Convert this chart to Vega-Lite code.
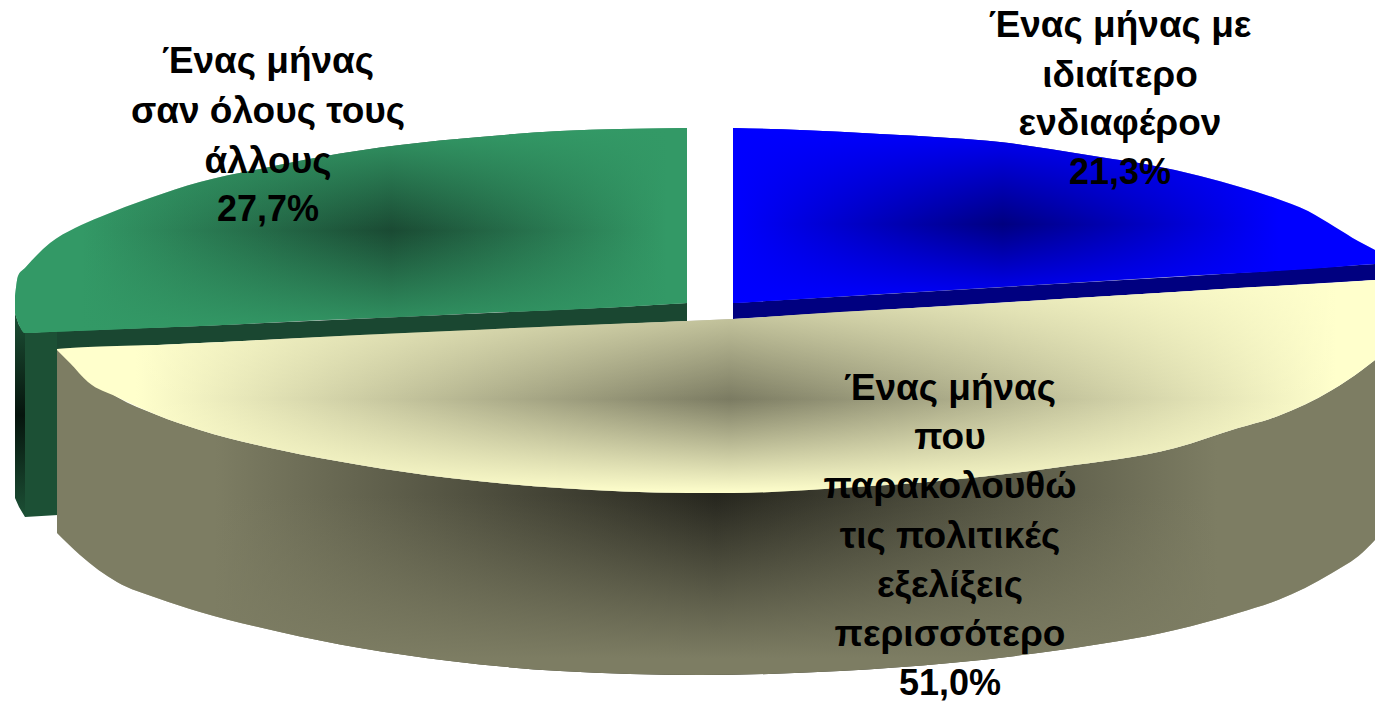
{
"$schema":"https://vega.github.io/schema/vega-lite/v6.json",
"width":1375,"height":704,"padding":0,"autosize":{"type":"none"},
"background":"white","view":{"stroke":null},
"datasets":{
"shape":[
{"part":"greenLeft","x":15,"top":313,"bottom":498},{"part":"greenLeft","x":19,"top":325,"bottom":507},{"part":"greenLeft","x":25,"top":333,"bottom":517},
{"part":"greenWall","x":25,"top":333,"bottom":517},{"part":"greenWall","x":58,"top":331,"bottom":515},
{"part":"greenStrip","x":57,"top":331,"bottom":350},{"part":"greenStrip","x":200,"top":326,"bottom":343},{"part":"greenStrip","x":620,"top":307,"bottom":324},{"part":"greenStrip","x":687,"top":303,"bottom":321},
{"part":"blueStrip","x":733,"top":303,"bottom":319},{"part":"blueStrip","x":1175,"top":277,"bottom":292},{"part":"blueStrip","x":1375,"top":264,"bottom":280},
{"part":"greenTop","x":15,"top":296,"bottom":313},{"part":"greenTop","x":18,"top":276,"bottom":322},{"part":"greenTop","x":25,"top":268,"bottom":333},{"part":"greenTop","x":50,"top":243,"bottom":332},{"part":"greenTop","x":75,"top":228,"bottom":331},{"part":"greenTop","x":100,"top":217,"bottom":330},{"part":"greenTop","x":150,"top":198,"bottom":328},{"part":"greenTop","x":200,"top":182,"bottom":326},{"part":"greenTop","x":260,"top":169,"bottom":323},{"part":"greenTop","x":320,"top":157,"bottom":320},{"part":"greenTop","x":400,"top":145,"bottom":317},{"part":"greenTop","x":480,"top":137,"bottom":313},{"part":"greenTop","x":560,"top":131,"bottom":310},{"part":"greenTop","x":620,"top":129,"bottom":307},{"part":"greenTop","x":687,"top":128,"bottom":303},
{"part":"blueTop","x":733,"top":128,"bottom":303},{"part":"blueTop","x":800,"top":130,"bottom":299},{"part":"blueTop","x":880,"top":134,"bottom":294},{"part":"blueTop","x":950,"top":138,"bottom":290},{"part":"blueTop","x":1000,"top":142,"bottom":287},{"part":"blueTop","x":1050,"top":149,"bottom":284},{"part":"blueTop","x":1100,"top":157,"bottom":281},{"part":"blueTop","x":1150,"top":165,"bottom":278},{"part":"blueTop","x":1200,"top":176,"bottom":275},{"part":"blueTop","x":1240,"top":187,"bottom":273},{"part":"blueTop","x":1275,"top":198,"bottom":271},{"part":"blueTop","x":1308,"top":211,"bottom":269},{"part":"blueTop","x":1335,"top":227,"bottom":267},{"part":"blueTop","x":1358,"top":241,"bottom":265},{"part":"blueTop","x":1375,"top":250,"bottom":264},
{"part":"yellowSide","x":57,"top":349,"bottom":533},{"part":"yellowSide","x":80,"top":370,"bottom":555},{"part":"yellowSide","x":117,"top":397,"bottom":582},{"part":"yellowSide","x":157,"top":415,"bottom":598},{"part":"yellowSide","x":200,"top":430,"bottom":612},{"part":"yellowSide","x":280,"top":450,"bottom":632},{"part":"yellowSide","x":360,"top":465,"bottom":648},{"part":"yellowSide","x":450,"top":478,"bottom":661},{"part":"yellowSide","x":560,"top":488,"bottom":671},{"part":"yellowSide","x":700,"top":493,"bottom":675},{"part":"yellowSide","x":840,"top":488,"bottom":671},{"part":"yellowSide","x":950,"top":480,"bottom":663},{"part":"yellowSide","x":1060,"top":467,"bottom":650},{"part":"yellowSide","x":1175,"top":448,"bottom":630},{"part":"yellowSide","x":1238,"top":428,"bottom":613},{"part":"yellowSide","x":1278,"top":416,"bottom":600},{"part":"yellowSide","x":1332,"top":390,"bottom":573},{"part":"yellowSide","x":1362,"top":370,"bottom":553},{"part":"yellowSide","x":1375,"top":360,"bottom":540},
{"part":"yellowTop","x":57,"top":349,"bottom":350},{"part":"yellowTop","x":70,"top":348,"bottom":363},{"part":"yellowTop","x":88,"top":347,"bottom":382},{"part":"yellowTop","x":117,"top":346,"bottom":397},{"part":"yellowTop","x":157,"top":345,"bottom":415},{"part":"yellowTop","x":200,"top":343,"bottom":430},{"part":"yellowTop","x":280,"top":339,"bottom":450},{"part":"yellowTop","x":360,"top":335,"bottom":465},{"part":"yellowTop","x":450,"top":331,"bottom":478},{"part":"yellowTop","x":560,"top":326,"bottom":488},{"part":"yellowTop","x":687,"top":321,"bottom":493},{"part":"yellowTop","x":733,"top":319,"bottom":493},{"part":"yellowTop","x":840,"top":312,"bottom":488},{"part":"yellowTop","x":950,"top":306,"bottom":480},{"part":"yellowTop","x":1060,"top":299,"bottom":467},{"part":"yellowTop","x":1175,"top":292,"bottom":448},{"part":"yellowTop","x":1238,"top":288,"bottom":428},{"part":"yellowTop","x":1278,"top":286,"bottom":416},{"part":"yellowTop","x":1332,"top":283,"bottom":390},{"part":"yellowTop","x":1362,"top":281,"bottom":370},{"part":"yellowTop","x":1375,"top":280,"bottom":360}
],
"labels":[
{"t":"Ένας μήνας","x":268,"y":62,"b":"n"},{"t":"σαν όλους τους","x":268,"y":112,"b":"n"},{"t":"άλλους","x":268,"y":162,"b":"n"},{"t":"27,7%","x":268,"y":210,"b":"y"},
{"t":"Ένας μήνας με","x":1120,"y":26,"b":"n"},{"t":"ιδιαίτερο","x":1120,"y":76,"b":"n"},{"t":"ενδιαφέρον","x":1120,"y":124,"b":"n"},{"t":"21,3%","x":1120,"y":173,"b":"y"},
{"t":"Ένας μήνας","x":950,"y":389,"b":"n"},{"t":"που","x":950,"y":438,"b":"n"},{"t":"παρακολουθώ","x":950,"y":487,"b":"n"},{"t":"τις πολιτικές","x":950,"y":537,"b":"n"},{"t":"εξελίξεις","x":950,"y":586,"b":"n"},{"t":"περισσότερο","x":950,"y":635,"b":"n"},{"t":"51,0%","x":950,"y":684,"b":"y"}
]},
"layer":[
{"data":{"name":"shape"},
"encoding":{"x":{"field":"x","type":"quantitative","scale":{"domain":[0,1375],"nice":false},"axis":null},"y":{"field":"top","type":"quantitative","scale":{"domain":[704,0],"nice":false,"zero":false},"axis":null},"y2":{"field":"bottom"}},
"layer":[
{"transform":[{"filter":"datum.part==='greenLeft'"}],"mark":{"type":"area","color":{"gradient":"linear","x1":0,"y1":0,"x2":0,"y2":1,"stops":[{"offset":0,"color":"#1c5035"},{"offset":0.5,"color":"#06140d"},{"offset":1,"color":"#1c5035"}]}}},
{"transform":[{"filter":"datum.part==='greenWall'"}],"mark":{"type":"area","color":"#1c5035"}},
{"transform":[{"filter":"datum.part==='greenStrip'"}],"mark":{"type":"area","color":"#1a4731"}},
{"transform":[{"filter":"datum.part==='blueStrip'"}],"mark":{"type":"area","color":"#000080"}},
{"transform":[{"filter":"datum.part==='greenTop'"}],"mark":{"type":"area","interpolate":"monotone","color":{"gradient":"linear","x1":0,"y1":0,"x2":1,"y2":0,"stops":[{"offset":0,"color":"#339966"},{"offset":0.1,"color":"#339966"},{"offset":0.56,"color":"#1a4a33"},{"offset":0.97,"color":"#339966"},{"offset":1,"color":"#339966"}]}}},
{"transform":[{"filter":"datum.part==='greenTop'"}],"mark":{"type":"area","interpolate":"monotone","color":{"gradient":"linear","x1":0,"y1":0,"x2":0,"y2":1,"stops":[{"offset":0,"color":"rgba(51,153,102,1)"},{"offset":0.5,"color":"rgba(51,153,102,0)"},{"offset":1,"color":"rgba(51,153,102,1)"}]}}},
{"transform":[{"filter":"datum.part==='blueTop'"}],"mark":{"type":"area","interpolate":"monotone","color":{"gradient":"linear","x1":0,"y1":0,"x2":1,"y2":0,"stops":[{"offset":0,"color":"#0000ff"},{"offset":0.42,"color":"#000080"},{"offset":0.85,"color":"#0000ff"},{"offset":1,"color":"#0000ff"}]}}},
{"transform":[{"filter":"datum.part==='blueTop'"}],"mark":{"type":"area","interpolate":"monotone","color":{"gradient":"linear","x1":0,"y1":0,"x2":0,"y2":1,"stops":[{"offset":0,"color":"rgba(0,0,255,1)"},{"offset":0.55,"color":"rgba(0,0,255,0)"},{"offset":1,"color":"rgba(0,0,255,1)"}]}}},
{"transform":[{"filter":"datum.part==='yellowSide'"}],"mark":{"type":"area","interpolate":"monotone","color":{"gradient":"linear","x1":0,"y1":0,"x2":1,"y2":0,"stops":[{"offset":0,"color":"#7d7d63"},{"offset":0.12,"color":"#7d7d63"},{"offset":0.5,"color":"#26261e"},{"offset":0.88,"color":"#7d7d63"},{"offset":1,"color":"#7d7d63"}]}}},
{"transform":[{"filter":"datum.part==='yellowSide'"}],"mark":{"type":"area","interpolate":"monotone","color":{"gradient":"linear","x1":0,"y1":0,"x2":0,"y2":1,"stops":[{"offset":0.45,"color":"rgba(125,125,99,0)"},{"offset":0.95,"color":"rgba(125,125,99,1)"},{"offset":1,"color":"rgba(125,125,99,1)"}]}}},
{"transform":[{"filter":"datum.part==='yellowTop'"}],"mark":{"type":"area","interpolate":"monotone","color":{"gradient":"linear","x1":0,"y1":0,"x2":1,"y2":0,"stops":[{"offset":0,"color":"#ffffcc"},{"offset":0.06,"color":"#ffffcc"},{"offset":0.51,"color":"#7b7b62"},{"offset":0.97,"color":"#ffffcc"},{"offset":1,"color":"#ffffcc"}]}}},
{"transform":[{"filter":"datum.part==='yellowTop'"}],"mark":{"type":"area","interpolate":"monotone","color":{"gradient":"linear","x1":0,"y1":0,"x2":0,"y2":1,"stops":[{"offset":0,"color":"rgba(255,255,204,0.8)"},{"offset":0.56,"color":"rgba(255,255,204,0)"},{"offset":1,"color":"rgba(255,255,204,1)"}]}}}
]},
{"data":{"name":"labels"},"transform":[{"filter":"datum.b==='n'"}],"mark":{"type":"text","font":"Liberation Sans","fontSize":37,"fontWeight":"bold","align":"center","baseline":"middle","color":"#000000"},"encoding":{"x":{"field":"x","type":"quantitative"},"y":{"field":"y","type":"quantitative"},"text":{"field":"t","type":"nominal"}}},
{"data":{"name":"labels"},"transform":[{"filter":"datum.b==='y'"}],"mark":{"type":"text","font":"Liberation Sans","fontSize":36,"fontWeight":"bold","align":"center","baseline":"middle","color":"#000000"},"encoding":{"x":{"field":"x","type":"quantitative"},"y":{"field":"y","type":"quantitative"},"text":{"field":"t","type":"nominal"}}}
]
}
